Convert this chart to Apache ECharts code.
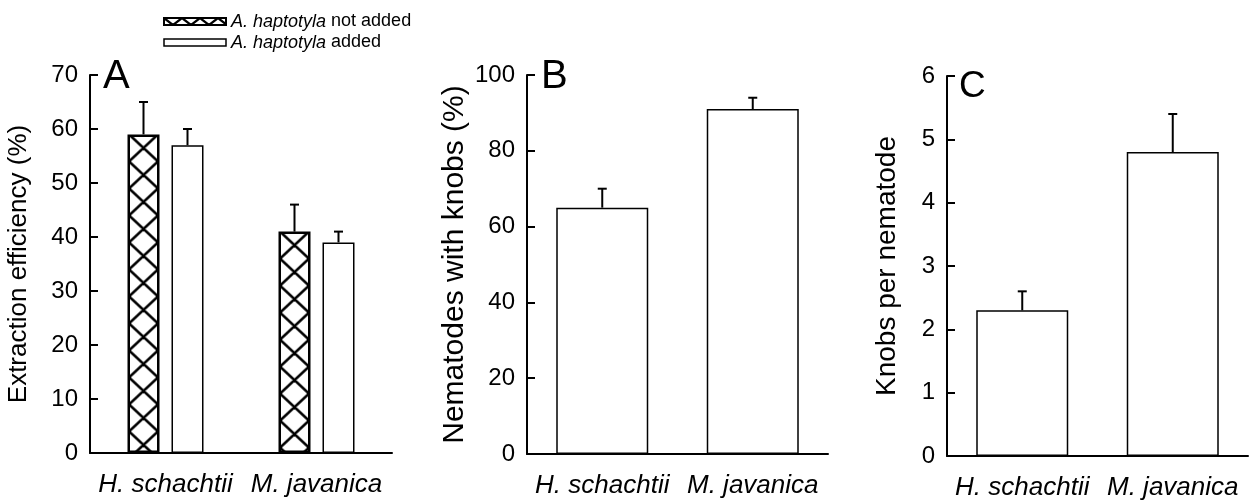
<!DOCTYPE html>
<html>
<head>
<meta charset="utf-8">
<script src="https://cdn.jsdelivr.net/npm/echarts@6/dist/echarts.min.js"></script>
<style>
html,body{margin:0;padding:0;background:#fff;}
#chart{width:1250px;height:502px;}
</style>
</head>
<body>
<div id="chart"></div>
<script>
// ---- data ----
const categories = ['H. schachtii', 'M. javanica'];
const seriesNames = ['A. haptotyla not added', 'A. haptotyla added'];
const effNotAdded = [59, 41];
const effNotAddedSE = [6, 5];
const effAdded = [57, 39];
const effAddedSE = [3, 2];
const knobPct = [65, 91];
const knobPctSE = [5, 3];
const knobsPer = [2.3, 4.8];
const knobsPerSE = [0.3, 0.6];
const panelLetters = ['A', 'B', 'C'];
const yNames = ['Extraction efficiency (%)', 'Nematodes with knobs (%)', 'Knobs per nematode'];
const yMax = [70, 100, 6];
const yInterval = [10, 20, 1];

// ---- style ----
const FONT = '"Liberation Sans", Arial, Helvetica, sans-serif';
const BAR_A_W = 32, BAR_A_GAP = 12;
const BAR_A_OFF = (BAR_A_W + BAR_A_GAP) / 2;
const BAR_BC_W = 92;

function hatchCanvas(w, h, lw) {
  const c = document.createElement('canvas');
  c.width = w; c.height = h;
  const ctx = c.getContext('2d');
  ctx.fillStyle = '#fff';
  ctx.fillRect(0, 0, w, h);
  ctx.strokeStyle = '#000';
  ctx.lineWidth = lw;
  ctx.beginPath();
  for (let dx = -w; dx <= w; dx += w) {
    for (let dy = -h; dy <= h; dy += h) {
      ctx.moveTo(dx, dy); ctx.lineTo(dx + w, dy + h);
      ctx.moveTo(dx + w, dy); ctx.lineTo(dx, dy + h);
    }
  }
  ctx.stroke();
  return c;
}
const barHatch = hatchCanvas(29, 27, 2.6);
const legendHatch = hatchCanvas(18, 14, 2.2);

const chart = echarts.init(document.getElementById('chart'), null, {renderer: 'canvas'});

const grids = [
  {left: 90, top: 75, width: 302, height: 378},
  {left: 527, top: 75, width: 301, height: 379},
  {left: 947, top: 76, width: 301, height: 380}
];

function errSeries(idx, vals, ses, offset) {
  return {
    type: 'custom',
    xAxisIndex: idx, yAxisIndex: idx,
    z: 10,
    silent: true,
    data: vals.map((v, i) => [i, v, v + ses[i]]),
    encode: {x: 0, y: [1, 2]},
    renderItem: function (params, api) {
      const c = api.value(0);
      const lo = api.coord([c, api.value(1)]);
      const hi = api.coord([c, api.value(2)]);
      const x = lo[0] + offset;
      return {
        type: 'group',
        children: [
          {type: 'line', shape: {x1: x, y1: lo[1], x2: x, y2: hi[1]}, style: {stroke: '#000', lineWidth: 2}},
          {type: 'line', shape: {x1: x - 4.5, y1: hi[1], x2: x + 4.5, y2: hi[1]}, style: {stroke: '#000', lineWidth: 2}}
        ]
      };
    }
  };
}

const nameGaps = [58, 57, 46];
const nameSizes = [26, 30, 28];
const letterPos = [{left: 103, top: 57}, {left: 541, top: 57}, {left: 959, top: 68}];
const letterSize = [40, 40, 37];

const option = {
  animation: false,
  backgroundColor: '#fff',
  textStyle: {fontFamily: FONT, color: '#000'},
  title: panelLetters.map((t, i) => ({
    text: t, left: letterPos[i].left, top: letterPos[i].top, padding: 0,
    textStyle: {fontSize: letterSize[i], fontWeight: 'normal', color: '#000', fontFamily: FONT}
  })),
  legend: {
    left: 158, top: 6, orient: 'vertical', itemWidth: 62, itemHeight: 7, itemGap: 0,
    icon: 'rect', selectedMode: false,
    data: [
      {name: seriesNames[0], itemStyle: {color: {image: legendHatch, repeat: 'repeat'}, borderColor: '#000', borderWidth: 2}},
      {name: seriesNames[1], itemStyle: {color: '#fff', borderColor: '#000', borderWidth: 1.5}}
    ],
    formatter: function (name) {
      const pre = 'A. haptotyla';
      return '{i|' + pre + '}' + name.slice(pre.length);
    },
    textStyle: {
      fontFamily: FONT, fontSize: 18, color: '#000', lineHeight: 21,
      rich: {i: {fontStyle: 'italic', fontSize: 18, fontFamily: FONT, color: '#000', lineHeight: 21}}
    }
  },
  grid: grids,
  xAxis: grids.map((g, i) => ({
    type: 'category', gridIndex: i, data: categories,
    axisLine: {lineStyle: {color: '#000', width: 2}},
    axisTick: {alignWithLabel: true, length: 5, lineStyle: {color: '#000', width: 1.5}},
    axisLabel: {interval: 0, hideOverlap: false, fontStyle: 'italic', fontSize: 26, color: '#000', margin: 19, fontFamily: FONT},
    splitLine: {show: false}
  })),
  yAxis: grids.map((g, i) => ({
    type: 'value', gridIndex: i, min: 0, max: yMax[i], interval: yInterval[i],
    name: yNames[i], nameLocation: 'middle', nameGap: nameGaps[i],
    nameTextStyle: {fontSize: nameSizes[i], color: '#000', fontFamily: FONT},
    axisLine: {show: true, lineStyle: {color: '#000', width: 2}},
    axisTick: {show: true, inside: true, length: 8, lineStyle: {color: '#000', width: 2}},
    axisLabel: {fontSize: 24, color: '#000', margin: 12, fontFamily: FONT},
    splitLine: {show: false}
  })),
  series: [
    {
      id: 'notAdded', name: seriesNames[0], type: 'bar', xAxisIndex: 0, yAxisIndex: 0,
      barWidth: BAR_A_W, barGap: (BAR_A_GAP / BAR_A_W * 100) + '%',
      data: effNotAdded,
      itemStyle: {color: {image: barHatch, repeat: 'repeat'}, borderColor: '#000', borderWidth: 2.5}
    },
    {
      id: 'added', name: seriesNames[1], type: 'bar', xAxisIndex: 0, yAxisIndex: 0,
      barWidth: BAR_A_W, barGap: (BAR_A_GAP / BAR_A_W * 100) + '%',
      data: effAdded,
      itemStyle: {color: '#fff', borderColor: '#000', borderWidth: 1.5}
    },
    errSeries(0, effNotAdded, effNotAddedSE, -BAR_A_OFF),
    errSeries(0, effAdded, effAddedSE, BAR_A_OFF),
    {
      type: 'bar', xAxisIndex: 1, yAxisIndex: 1, barWidth: BAR_BC_W, data: knobPct,
      itemStyle: {color: '#fff', borderColor: '#000', borderWidth: 1.5}
    },
    errSeries(1, knobPct, knobPctSE, 0),
    {
      type: 'bar', xAxisIndex: 2, yAxisIndex: 2, barWidth: BAR_BC_W, data: knobsPer,
      itemStyle: {color: '#fff', borderColor: '#000', borderWidth: 1.5}
    },
    errSeries(2, knobsPer, knobsPerSE, 0)
  ]
};
chart.setOption(option);

// align the hatch pattern to each bar's own corner
const hatchedData = effNotAdded.map((v, i) => {
  const cx = chart.convertToPixel({xAxisIndex: 0}, i);
  const top = chart.convertToPixel({yAxisIndex: 0}, v);
  return {
    value: v,
    itemStyle: {color: {image: barHatch, repeat: 'repeat', x: cx - BAR_A_OFF - BAR_A_W / 2 + 1.5, y: top}}
  };
});
chart.setOption({series: [{id: 'notAdded', data: hatchedData}]});
</script>
</body>
</html>
